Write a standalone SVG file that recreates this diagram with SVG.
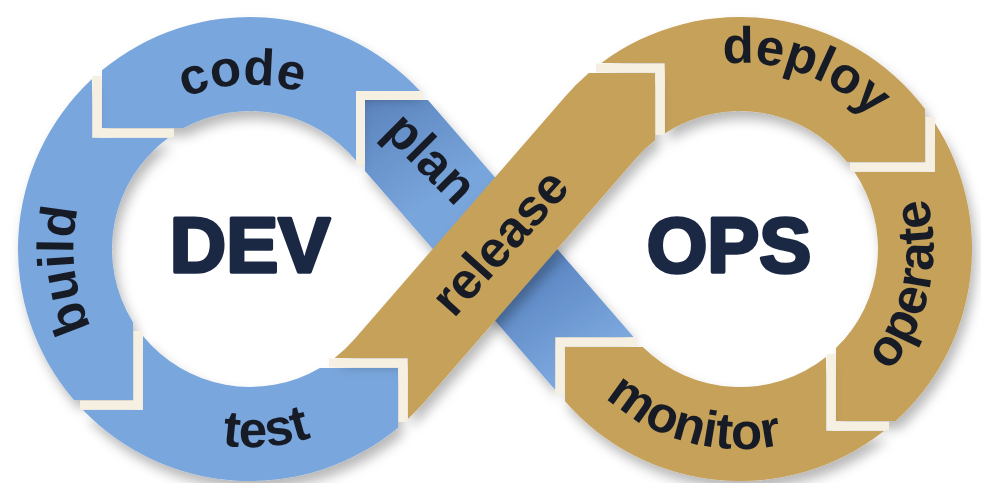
<svg xmlns="http://www.w3.org/2000/svg" width="981" height="483" viewBox="0 0 981 483">
<style>
.blue{fill:#79A6DC}
.gold{fill:#C5A15A}
.lbl{font-family:"Liberation Sans",Arial,sans-serif;font-weight:bold;font-size:51px;fill:#161b26}
.big{font-family:"Liberation Sans",Arial,sans-serif;font-weight:bold;font-size:78px;fill:#1B2844;stroke:#1B2844;stroke-width:3.5;stroke-linejoin:round}
.gap{fill:none;stroke:#F5F0E2;stroke-width:9;stroke-linejoin:miter}
</style>
<defs>
<filter id="sh" filterUnits="userSpaceOnUse" x="0" y="0" width="981" height="483">
<feGaussianBlur in="SourceAlpha" stdDeviation="6"/>
<feOffset dx="4" dy="8" result="b"/>
<feFlood flood-color="#000" flood-opacity="0.28"/>
<feComposite in2="b" operator="in"/>
<feMerge><feMergeNode/><feMergeNode in="SourceGraphic"/></feMerge>
</filter>
<linearGradient id="gplan" gradientUnits="userSpaceOnUse" x1="365" y1="100" x2="555" y2="390">
<stop offset="0" stop-color="#5b83bd"/>
<stop offset="0.35" stop-color="#78a5db"/>
<stop offset="0.55" stop-color="#78a5db"/>
<stop offset="0.7" stop-color="#5d88c4"/>
<stop offset="1" stop-color="#7eaae0"/>
</linearGradient>
<path id="p-code" d="M84.2 256 A166 166 0 0 1 415.5 236.3"/>
<path id="p-build" d="M269.5 425.9 A178 178 0 0 1 224.3 72.9"/>
<path id="p-test" d="M52.1 269.8 A199 199 0 0 0 448.5 235.1"/>
<path id="p-deploy" d="M578.9 156 A186 186 0 0 1 923.2 281.3"/>
<path id="p-operate" d="M703.4 437.5 A192 192 0 0 0 783.2 61.9"/>
<path id="p-monitor" d="M546.8 197.2 A200 200 0 0 0 933.2 300.8"/>
</defs>
<rect width="981" height="483" fill="#ffffff"/>

<g id="node-plan">
<path d="M555 337 L633.6 337 L427.9 100 L365 100 L365 170.9 L555 389.8 Z" fill="url(#gplan)" filter="url(#sh)"/>
<text class="lbl" transform="translate(428,161) rotate(45)" y="13" text-anchor="middle">plan</text>
</g>
<g id="node-code">
<path class="blue" d="M356 91 L420 91 A232 232 0 0 0 102 70.3 L102 128 L183.6 128 A138 138 0 0 1 356 160.6 Z" filter="url(#sh)"/>
<text class="lbl"><textPath href="#p-code" startOffset="50.5%" text-anchor="middle">code</textPath></text>
</g>
<g id="node-build">
<path class="blue" d="M92 79.1 A232 232 0 0 0 73.9 400 L133 400 L133 322.2 A138 138 0 0 1 168 138 L92 138 Z" filter="url(#sh)"/>
<text class="lbl"><textPath href="#p-build" startOffset="50.5%" text-anchor="middle">build</textPath></text>
</g>
<g id="node-test">
<path class="blue" d="M143 410 L83 410 A232 232 0 0 0 398 427.7 L398 368 L319.9 368 A138 138 0 0 1 143 336.1 Z" filter="url(#sh)"/>
<text class="lbl"><textPath href="#p-test" startOffset="50%" text-anchor="middle">test</textPath></text>
</g>
<g id="node-deploy">
<path class="gold" d="M601.3 63 A232 232 0 0 1 925 109 L925 162 L847.1 162 A138 138 0 0 0 665 133.2 L665 63 Z" filter="url(#sh)"/>
<text class="lbl"><textPath href="#p-deploy" startOffset="50%" text-anchor="middle">deploy</textPath></text>
</g>
<g id="node-operate">
<path class="gold" d="M935 123.3 A232 232 0 0 1 895.7 421 L836 421 L836 348.1 A138 138 0 0 0 854.5 172 L935 172 Z" filter="url(#sh)"/>
<text class="lbl"><textPath href="#p-operate" startOffset="50%" text-anchor="middle">operate</textPath></text>
</g>
<g id="node-monitor">
<path class="gold" d="M826 431 L883.9 431 A232 232 0 0 1 565 401.3 L565 347 L642.8 347 A138 138 0 0 0 826 356.9 Z" filter="url(#sh)"/>
<text class="lbl"><textPath href="#p-monitor" startOffset="50%" text-anchor="middle">monitor</textPath></text>
</g>
<g id="node-release">
<path class="gold" d="M408 358 L334.6 358 A138 138 0 0 0 354.2 339.5 L564.8 96.9 A232 232 0 0 1 588.8 73 L655 73 L655 140.3 A138 138 0 0 0 635.8 158.5 L425.2 401.1 A232 232 0 0 1 408 418.9 Z" filter="url(#sh)"/>
<text class="lbl" transform="translate(503,245) rotate(-48)" y="13" text-anchor="middle">release</text>
</g>

<g id="gaps">
<polyline class="gap" points="423,95.5 360.5,95.5 360.5,165"/>
<polyline class="gap" points="97,76 97,133 174,133"/>
<polyline class="gap" points="138,331 138,405 80,405"/>
<polyline class="gap" points="329,363 403,363 403,422"/>
<polyline class="gap" points="596,68 660,68 660,135"/>
<polyline class="gap" points="930,117 930,167 850,167"/>
<polyline class="gap" points="831,354 831,426 889,426"/>
<polyline class="gap" points="637,342 560,342 560,394"/>
</g>

<g id="node-dev">
<text class="big" x="250" y="272" text-anchor="middle">DEV</text>
</g>
<g id="node-ops">
<text class="big" x="729" y="272" text-anchor="middle">OPS</text>
</g>
</svg>
